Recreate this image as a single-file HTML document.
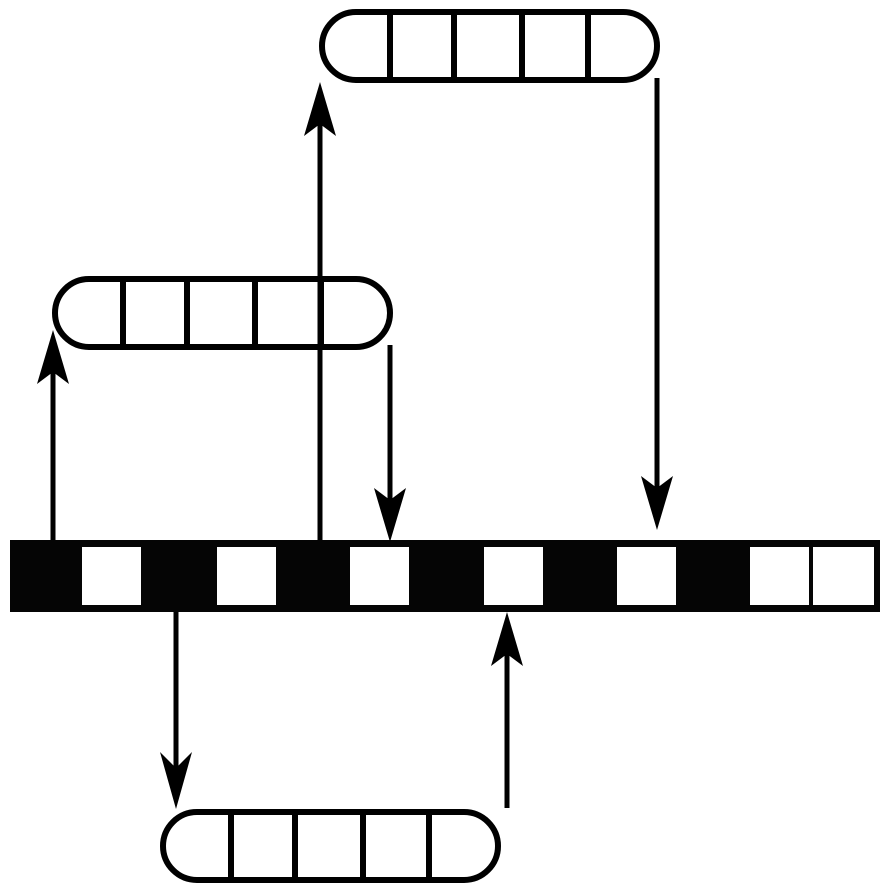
<!DOCTYPE html>
<html><head><meta charset="utf-8"><style>html,body{margin:0;padding:0;background:#fff}svg{display:block}</style></head>
<body>
<svg width="890" height="893" viewBox="0 0 890 893" xmlns="http://www.w3.org/2000/svg">
<defs>
<g id="cap">
<rect x="0" y="0" width="335" height="68" rx="34" ry="34" fill="#fff" stroke="#000" stroke-width="6"/>
<line x1="68" y1="0" x2="68" y2="68" stroke="#000" stroke-width="6"/>
<line x1="132" y1="0" x2="132" y2="68" stroke="#000" stroke-width="6"/>
<line x1="200" y1="0" x2="200" y2="68" stroke="#000" stroke-width="6"/>
<line x1="266" y1="0" x2="266" y2="68" stroke="#000" stroke-width="6"/>
</g>
</defs>
<!-- bar -->
<rect x="10" y="540" width="870" height="72" fill="#050505"/>
<g fill="#fff">
<rect x="82" y="547" width="59" height="58"/>
<rect x="217" y="547" width="59" height="58"/>
<rect x="350" y="547" width="59" height="58"/>
<rect x="484" y="547" width="59" height="58"/>
<rect x="617" y="547" width="59" height="58"/>
<rect x="750" y="547" width="59" height="58"/>
<rect x="813" y="547" width="61" height="58"/>
</g>
<!-- capsules -->
<use href="#cap" x="55" y="279"/>
<use href="#cap" x="322" y="12"/>
<use href="#cap" x="163" y="812"/>
<!-- lines -->
<g stroke="#000" stroke-width="5">
<line x1="53" y1="540" x2="53" y2="370"/>
<line x1="320" y1="540" x2="320" y2="120"/>
<line x1="390" y1="345" x2="390" y2="505"/>
<line x1="657" y1="78" x2="657" y2="495"/>
<line x1="176" y1="612" x2="176" y2="775"/>
<line x1="507" y1="808" x2="507" y2="650"/>
</g>
<g fill="#000">
<path d="M53 330 L69 384 L53 372 L37 384 Z"/>
<path d="M320 82 L336 136 L320 124 L304 136 Z"/>
<path d="M390 542 L374 488 L390 500 L406 488 Z"/>
<path d="M657 530 L641 476 L657 488 L673 476 Z"/>
<path d="M176 809 L160 752 L176 768 L192 752 Z"/>
<path d="M507 612 L523 666 L507 654 L491 666 Z"/>
</g>
</svg>
</body></html>
